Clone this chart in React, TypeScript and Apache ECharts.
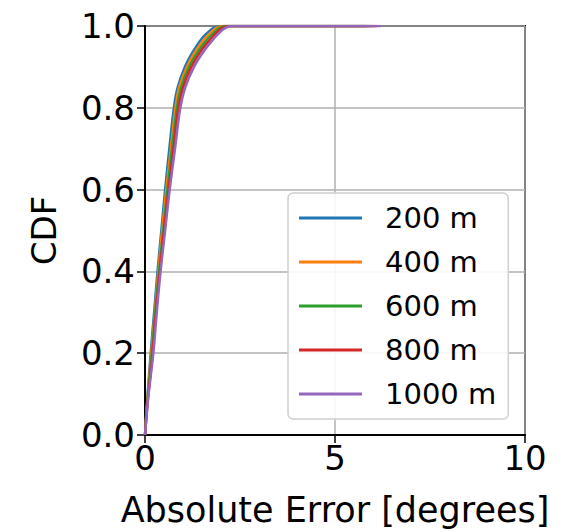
import React, { useEffect, useRef } from "react";
import * as echarts from "echarts";

// CDF levels shared by every curve, and the absolute error (degrees) at which each curve reaches them
const cdfLevels = [0, 0.05, 0.1, 0.2, 0.3, 0.4, 0.5, 0.6, 0.7, 0.8, 0.85, 0.9, 0.94, 0.97, 0.99, 0.997, 1, 1];
const err200 = [0, 0.03, 0.07, 0.15, 0.24, 0.33, 0.43, 0.53, 0.64, 0.76, 0.86, 1.05, 1.28, 1.5, 1.72, 1.85, 1.97, 5.9];
const err400 = [0, 0.035, 0.075, 0.165, 0.26, 0.35, 0.45, 0.56, 0.68, 0.8, 0.9, 1.1, 1.34, 1.58, 1.8, 1.92, 2.05, 6.0];
const err600 = [0, 0.04, 0.08, 0.18, 0.27, 0.37, 0.48, 0.59, 0.71, 0.84, 0.95, 1.16, 1.41, 1.66, 1.88, 2.0, 2.12, 5.8];
const err800 = [0, 0.04, 0.09, 0.2, 0.29, 0.39, 0.5, 0.62, 0.75, 0.88, 1.0, 1.22, 1.48, 1.74, 1.95, 2.08, 2.2, 6.1];
const err1000 = [0, 0.045, 0.095, 0.22, 0.31, 0.41, 0.53, 0.65, 0.79, 0.93, 1.06, 1.29, 1.56, 1.82, 2.03, 2.15, 2.28, 6.2];

const seriesNames = ["200 m", "400 m", "600 m", "800 m", "1000 m"];
const seriesErrors = [err200, err400, err600, err800, err1000];
const seriesColors = ["#1f77b4", "#ff7f0e", "#2ca02c", "#d62728", "#9467bd"];

const xTicks = [0, 5, 10];
const yTicks = [0, 0.2, 0.4, 0.6, 0.8, 1.0];

const FONT = "DejaVu Sans";

export default function App() {
  const ref = useRef<HTMLDivElement>(null);

  useEffect(() => {
    if (!ref.current) return;
    const chart = echarts.init(ref.current, undefined, { renderer: "svg" });

    const series = seriesNames.map((name, i) => ({
      name,
      type: "line",
      data: seriesErrors[i].map((x, j) => [x, cdfLevels[j]]),
      showSymbol: false,
      smooth: 0.4,
      lineStyle: { width: 2.5, color: seriesColors[i] },
      itemStyle: { color: seriesColors[i] },
      z: 3 + i,
    }));

    chart.setOption({
      animation: false,
      backgroundColor: "#ffffff",
      textStyle: { fontFamily: FONT },
      grid: {
        left: 145,
        right: 54,
        top: 26,
        bottom: 96,
        show: true,
        borderColor: "#000000",
        borderWidth: 2,
        backgroundColor: "transparent",
      },
      legend: {
        orient: "vertical",
        left: 288,
        top: 193,
        width: 222,
        padding: [8, 12, 8, 11],
        backgroundColor: "rgba(255,255,255,0.9)",
        borderColor: "#d0d0d0",
        borderWidth: 1.5,
        borderRadius: 5,
        icon: "rect",
        itemWidth: 63,
        itemHeight: 3,
        itemGap: 10,
        data: seriesNames,
        textStyle: {
          fontFamily: FONT,
          fontSize: 29,
          color: "#000000",
          lineHeight: 34,
          padding: [0, 0, 0, 18],
        },
      },
      xAxis: {
        type: "value",
        min: 0,
        max: 10,
        interval: 5,
        name: "Absolute Error [degrees]",
        nameLocation: "middle",
        nameGap: 57,
        nameTextStyle: { fontFamily: FONT, fontSize: 35, color: "#000000" },
        axisLine: { show: true, onZero: false, lineStyle: { color: "#000000", width: 2 } },
        axisTick: { show: true, inside: false, length: 8, lineStyle: { color: "#000000", width: 1.5 } },
        axisLabel: {
          fontFamily: FONT,
          fontSize: 34,
          color: "#000000",
          margin: 6,
          formatter: (v: number) => (xTicks.includes(v) ? String(v) : ""),
        },
        splitLine: { show: true, lineStyle: { color: "#b0b0b0", width: 1.5 } },
      },
      yAxis: {
        type: "value",
        min: 0,
        max: 1,
        interval: 0.2,
        name: "CDF",
        nameLocation: "middle",
        nameGap: 84,
        nameRotate: 90,
        nameTextStyle: { fontFamily: FONT, fontSize: 34, color: "#000000" },
        axisLine: { show: true, onZero: false, lineStyle: { color: "#000000", width: 2 } },
        axisTick: { show: true, inside: false, length: 8, lineStyle: { color: "#000000", width: 1.5 } },
        axisLabel: {
          fontFamily: FONT,
          fontSize: 34,
          color: "#000000",
          margin: 10,
          formatter: (v: number) => {
            const t = yTicks.find((y) => Math.abs(y - v) < 1e-9);
            return t === undefined ? "" : t.toFixed(1);
          },
        },
        splitLine: { show: true, lineStyle: { color: "#b0b0b0", width: 1.5 } },
      },
      series,
    });

    return () => chart.dispose();
  }, []);

  return <div ref={ref} style={{ width: 579, height: 532, position: "absolute", left: 0, top: 0 }} />;
}
